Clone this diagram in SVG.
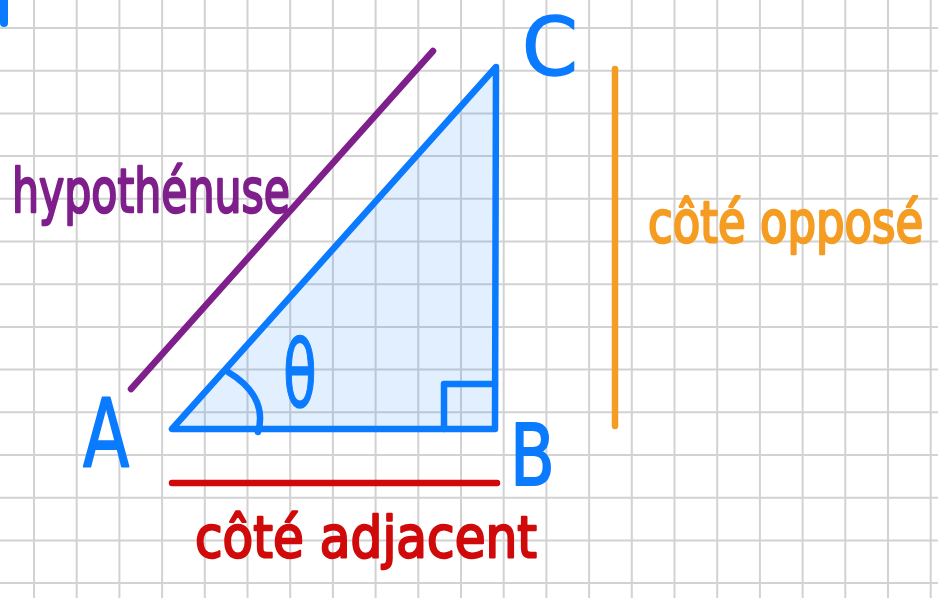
<svg xmlns="http://www.w3.org/2000/svg" width="938" height="598" viewBox="0 0 938 598">
<style>
.grid line{stroke:#d2d2d2;stroke-width:2}
.hand{font-family:"DejaVu Sans","Liberation Sans",sans-serif;font-weight:normal;stroke-linejoin:round;stroke-linecap:round}
.blue{fill:#0a7bff;stroke:#0a7bff}
.stroke{fill:none;stroke-linecap:round;stroke-linejoin:round;stroke-width:6.5}
</style>
<rect width="938" height="598" fill="#ffffff"/>
<g class="grid">
<line x1="34" y1="0" x2="34" y2="598"/><line x1="76.7" y1="0" x2="76.7" y2="598"/><line x1="119.4" y1="0" x2="119.4" y2="598"/><line x1="162.1" y1="0" x2="162.1" y2="598"/><line x1="204.8" y1="0" x2="204.8" y2="598"/><line x1="247.5" y1="0" x2="247.5" y2="598"/><line x1="290.2" y1="0" x2="290.2" y2="598"/><line x1="332.9" y1="0" x2="332.9" y2="598"/><line x1="375.6" y1="0" x2="375.6" y2="598"/><line x1="418.3" y1="0" x2="418.3" y2="598"/><line x1="461" y1="0" x2="461" y2="598"/><line x1="503.7" y1="0" x2="503.7" y2="598"/><line x1="546.4" y1="0" x2="546.4" y2="598"/><line x1="589.1" y1="0" x2="589.1" y2="598"/><line x1="631.8" y1="0" x2="631.8" y2="598"/><line x1="674.5" y1="0" x2="674.5" y2="598"/><line x1="717.2" y1="0" x2="717.2" y2="598"/><line x1="759.9" y1="0" x2="759.9" y2="598"/><line x1="802.6" y1="0" x2="802.6" y2="598"/><line x1="845.3" y1="0" x2="845.3" y2="598"/><line x1="888" y1="0" x2="888" y2="598"/><line x1="930.7" y1="0" x2="930.7" y2="598"/>
<line x1="0" y1="28" x2="938" y2="28"/><line x1="0" y1="70.7" x2="938" y2="70.7"/><line x1="0" y1="113.4" x2="938" y2="113.4"/><line x1="0" y1="156.1" x2="938" y2="156.1"/><line x1="0" y1="198.8" x2="938" y2="198.8"/><line x1="0" y1="241.5" x2="938" y2="241.5"/><line x1="0" y1="284.2" x2="938" y2="284.2"/><line x1="0" y1="326.9" x2="938" y2="326.9"/><line x1="0" y1="369.6" x2="938" y2="369.6"/><line x1="0" y1="412.3" x2="938" y2="412.3"/><line x1="0" y1="455" x2="938" y2="455"/><line x1="0" y1="497.7" x2="938" y2="497.7"/><line x1="0" y1="540.4" x2="938" y2="540.4"/><line x1="0" y1="583.1" x2="938" y2="583.1"/>
</g>
<line x1="4" y1="-4" x2="4" y2="23" stroke="#0a7bff" stroke-width="8" stroke-linecap="round"/>
<g id="triangle">
<polygon points="172,429 495,429 496,67" fill="#0a7bff" fill-opacity="0.12" stroke="#0a7bff" stroke-width="6.5" stroke-linejoin="round"/>
<path d="M444,429 V384 H495" class="stroke" stroke="#0a7bff"/>
<path d="M228,372 C250,385 266,405 258,432" class="stroke" stroke="#0a7bff" stroke-width="6"/>
</g>
<g id="connectors">
<line id="hyp-line" x1="131" y1="389" x2="433" y2="51" class="stroke" stroke="#7f1f8b"/>
<line id="opp-line" x1="615" y1="69" x2="615" y2="426" class="stroke" stroke="#f59c23"/>
<line id="adj-line" x1="172" y1="483" x2="497" y2="483" class="stroke" stroke="#d00a0a"/>
</g>
<g id="label-C"><text class="hand blue" font-size="80" stroke-width="1.5" x="522" y="75">C</text></g>
<g id="label-A"><text class="hand blue" font-size="94" stroke-width="2" transform="translate(83,467) scale(0.72,1)" x="0" y="0">A</text></g>
<g id="label-B"><text class="hand blue" font-size="86" stroke-width="2" transform="translate(510,485) scale(0.76,1)" x="0" y="0">B</text></g>
<g id="label-theta"><text class="hand blue" font-size="92" stroke-width="1.5" transform="translate(283,407) scale(0.6,1)" x="0" y="0">θ</text></g>
<g id="label-hyp"><text class="hand" fill="#7f1f8b" stroke="#7f1f8b" stroke-width="2" font-size="48" transform="translate(12,212) scale(1,1.25)" x="0" y="0" textLength="278" lengthAdjust="spacingAndGlyphs">hypothénuse</text></g>
<g id="label-opp"><text class="hand" fill="#f59c23" stroke="#f59c23" stroke-width="2" font-size="45" transform="translate(648,242) scale(1,1.27)" x="0" y="0">côté opposé</text></g>
<g id="label-adj"><text class="hand" fill="#d00a0a" stroke="#d00a0a" stroke-width="2" font-size="48" transform="translate(195,557) scale(1,1.2)" x="0" y="0" textLength="342" lengthAdjust="spacingAndGlyphs">côté adjacent</text></g>
</svg>
